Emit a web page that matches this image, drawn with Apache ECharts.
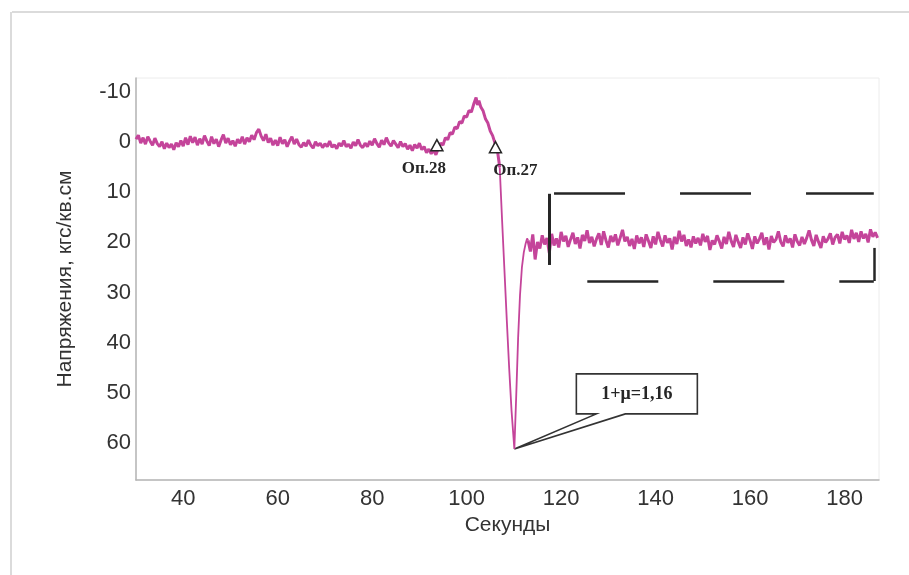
<!DOCTYPE html>
<html>
<head>
<meta charset="utf-8">
<script src="https://cdn.jsdelivr.net/npm/echarts@6/dist/echarts.min.js"></script>
<style>
  html, body { margin: 0; padding: 0; background: #fff; }
  #chart { width: 909px; height: 575px; }
</style>
</head>
<body>
<div id="chart"></div>
<script>
// sampled trace, seconds / kgf per sq.cm
const sampleStep = 0.5;

const baseStart = 30;
const baseValues = [
  -0.6, -1.4, 0.2, -0.9, 0.4, -1.1, -0.2, 0.6, -0.8, 0.3,
  0.9, -0.1, 1.3, 0.2, 1.1, 0.4, 1.5, 0.1, 0.9, -0.3,
  0.8, -0.9, 0.5, -1.2, 0.1, -1.0, 0.6, -0.7, 0.4, -1.3,
  -0.2, 0.7, -1.1, 0.3, -0.6, 0.9, -0.4, -1.5, 0.2, -0.8,
  0.5, -0.3, 0.8, -0.6, 0.2, -1.1, 0.4, -0.9, -0.1, -1.4,
  -0.5, -1.9, -2.6, -1.2, -0.3, -1.6, 0.1, -0.8, 0.6, -0.4,
  0.7, -1.0, 0.3, -0.5, 0.9, -0.2, -1.1, 0.4, -0.6, 0.5,
  1.0, 0.1, 0.8, -0.4, 0.6, 1.2, -0.1, 0.7, 0.2, 1.1,
  0.3, 0.9, -0.2, 1.0, 0.5, 1.3, 0.2, 0.8, -0.3, 0.9,
  0.4, 1.2, 0.0, 0.7, -0.5, 0.6, 1.1, 0.2, 0.9, -0.2,
  0.6, -0.7, 0.3, 1.0, -0.4, 0.5, -0.9, 0.2, 0.8, -0.3,
  0.4, 1.1, -0.1, 0.9, 0.3, 1.4, 0.6, 1.7, 0.5, 1.2,
  0.2, 1.5, 0.9, 2.1
];

// rise between supports 28 and 27
const riseTimes = [
  92, 92.5, 93, 93.5, 94, 94.5, 95, 95.5, 96, 96.5,
  97, 97.5, 98, 98.5, 99, 99.5, 100, 100.5, 101, 101.5,
  102, 102.3, 102.6, 103, 103.5, 104, 104.5, 105, 105.5, 106,
  106.5, 107
];
const riseValues = [
  1.4, 2.3, 1.6, 2.5, 1.2, 0.2, 0.6, -0.9, -0.5, -1.9,
  -1.6, -3.0, -2.7, -4.1, -3.8, -5.2, -5.0, -6.3, -6.0, -7.6,
  -8.9, -7.4, -8.3, -7.0, -6.2, -4.6, -3.8, -2.2, -1.3, 0.2,
  1.5, 5.0
];

// sharp drop and recovery
const dropTimes = [107, 107.5, 108, 108.5, 109, 109.5, 110.1, 110.5, 110.9, 111.3, 111.7, 112.1, 112.5, 112.8, 113];
const dropValues = [5.0, 15.5, 25.5, 35.5, 45.0, 53.5, 61.2, 50.5, 39.0, 30.5, 25.0, 22.0, 20.2, 19.2, 19.6];

const postStart = 113;
const postValues = [
  19.6, 21.8, 18.4, 23.4, 19.9, 21.2, 18.6, 20.4, 19.1, 22.1,
  18.3, 20.6, 19.2, 21.0, 17.9, 19.8, 18.7, 20.9, 19.4, 18.1,
  20.3, 19.0, 21.2, 18.5, 19.7, 17.6, 20.1, 18.9, 20.8, 19.3,
  18.2, 20.5, 17.8, 19.6, 21.0, 18.7, 19.9, 18.4, 20.6, 19.1,
  17.5, 19.8, 18.9, 20.7, 19.3, 21.3, 18.6, 20.2, 19.0, 20.9,
  18.4, 19.7, 21.1, 18.8, 20.4, 17.9, 19.5, 20.8, 18.6, 20.1,
  19.2, 21.4, 18.9, 20.3, 17.7, 19.8, 18.5, 20.7, 19.4, 21.0,
  18.8, 20.2, 19.1, 20.6, 18.3, 19.9, 18.7, 21.5, 19.6, 20.4,
  18.6, 19.8, 21.2, 18.9, 20.3, 17.9, 19.7, 20.9, 18.5, 19.9,
  21.1, 19.0, 20.4, 18.2, 19.6, 21.3, 18.8, 20.2, 19.3, 18.1,
  20.5, 19.0, 21.4, 18.7, 20.0, 19.4, 17.8, 19.9, 20.8, 18.6,
  20.1, 19.2, 21.0, 18.4, 19.8, 20.6, 18.9, 20.3, 19.1, 17.6,
  19.5, 20.7, 18.5, 19.9, 21.1, 18.8, 20.0, 19.3, 18.2, 20.4,
  19.0, 18.4, 20.2, 17.9, 19.4, 18.6, 20.1, 17.5, 19.3, 18.1,
  19.9, 17.8, 19.2, 18.3, 20.0, 17.4, 18.9, 18.0, 19.1
];

const xTicks = [40, 60, 80, 100, 120, 140, 160, 180];
const yTicks = [-10, 0, 10, 20, 30, 40, 50, 60];

// supports (triangles)
const supportNames = ['Оп.28', 'Оп.27'];
const supportTimes = [93.7, 106.1];
const supportValues = [0.6, 1.0];

// dashed band after the drop
const bandTop = 10.2, bandBottom = 27.7;
const bandLeft = 117.5, bandRight = 186.2;

const calloutText = '1+μ=1,16';

const before = [];
baseValues.forEach((v, i) => before.push([baseStart + i * sampleStep, v]));
riseTimes.forEach((t, i) => before.push([t, riseValues[i]]));
const drop = dropTimes.map((t, i) => [t, dropValues[i]]);
const after = postValues.map((v, i) => [postStart + i * sampleStep, v]);

let peak = drop[0];
drop.forEach(p => { if (p[1] > peak[1]) peak = p; });

const chart = echarts.init(document.getElementById('chart'), null, { renderer: 'canvas' });

const pink = '#c4449a';
const dark = '#262626';
const serif = '"Liberation Serif", "Times New Roman", serif';
const sans = '"Liberation Sans", Arial, sans-serif';

const traceSeries = (data, width) => ({
  type: 'line',
  data: data,
  showSymbol: false,
  silent: true,
  lineStyle: { color: pink, width: width }
});

const option = {
  animation: false,
  backgroundColor: '#fff',
  grid: {
    left: 136, right: 30, top: 78, bottom: 95,
    show: true, borderColor: '#ececec', borderWidth: 1
  },
  xAxis: {
    type: 'value',
    min: 30, max: 187.3,
    name: 'Секунды',
    nameLocation: 'middle',
    nameGap: 35,
    nameTextStyle: { fontFamily: sans, fontSize: 21, color: '#333' },
    axisLine: { onZero: false, lineStyle: { color: '#b5b5b5', width: 1.5 } },
    axisTick: { show: false },
    splitLine: { show: false },
    axisLabel: {
      customValues: xTicks,
      margin: 8,
      fontFamily: sans, fontSize: 22, color: '#333'
    }
  },
  yAxis: {
    type: 'value',
    inverse: true,
    min: -12.8, max: 67.4,
    name: 'Напряжения, кгс/кв.см',
    nameLocation: 'middle',
    nameGap: 60,
    nameTextStyle: { fontFamily: sans, fontSize: 21, color: '#333' },
    axisLine: { show: true, onZero: false, lineStyle: { color: '#b5b5b5', width: 1.5 } },
    axisTick: { show: false },
    splitLine: { show: false },
    axisLabel: {
      customValues: yTicks,
      margin: 5,
      fontFamily: sans, fontSize: 22, color: '#333'
    }
  },
  series: [
    Object.assign(traceSeries(before, 3), {
      markPoint: {
        silent: true,
        symbol: 'triangle',
        symbolSize: [12, 11],
        itemStyle: { color: '#fff', borderColor: dark, borderWidth: 1.5 },
        label: {
          show: true,
          position: 'bottom',
          formatter: '{b}',
          fontFamily: serif, fontWeight: 'bold', fontSize: 17, color: dark
        },
        data: [
          { name: supportNames[0], coord: [supportTimes[0], supportValues[0]],
            label: { offset: [-13, 4] } },
          { name: supportNames[1], coord: [supportTimes[1], supportValues[1]],
            label: { offset: [20, 4] } }
        ]
      }
    }),
    traceSeries(drop, 1.8),
    Object.assign(traceSeries(after, 3), {
      markLine: {
        silent: true,
        symbol: ['none', 'none'],
        label: { show: false },
        lineStyle: { color: dark, width: 2.5, type: 'solid' },
        data: [
          [{ coord: [bandLeft + 1, bandTop], lineStyle: { type: [71, 55] } },
           { coord: [bandRight, bandTop] }],
          [{ coord: [bandLeft, bandBottom], lineStyle: { type: [71, 55], dashOffset: 88 } },
           { coord: [bandRight, bandBottom] }],
          [{ coord: [bandLeft, bandTop + 0.1], lineStyle: { width: 3 } },
           { coord: [bandLeft, 24.5] }],
          [{ coord: [bandRight, 21.1] },
           { coord: [bandRight, bandBottom] }]
        ]
      }
    })
  ]
};

chart.setOption(option);

// callout with pointer to the deepest point
const tip = chart.convertToPixel({ gridIndex: 0 }, peak);
const bx = tip[0] + 62, by = tip[1] - 75, bw = 121, bh = 40;
chart.setOption({
  graphic: [
    { type: 'line', shape: { x1: 12, y1: 12, x2: 909, y2: 12 },
      style: { stroke: '#cfcfcf', lineWidth: 1.5 }, silent: true },
    { type: 'line', shape: { x1: 11, y1: 12, x2: 11, y2: 575 },
      style: { stroke: '#cfcfcf', lineWidth: 1.5 }, silent: true },
    {
      type: 'polygon',
      silent: true,
      shape: {
        points: [
          [bx, by], [bx + bw, by], [bx + bw, by + bh],
          [tip[0] + 111, by + bh], [tip[0], tip[1]],
          [tip[0] + 82, by + bh], [bx, by + bh]
        ]
      },
      style: { fill: '#fff', stroke: '#333', lineWidth: 1.6 }
    },
    {
      type: 'text',
      silent: true,
      x: bx + bw / 2, y: by + bh / 2,
      style: {
        text: calloutText,
        align: 'center', verticalAlign: 'middle',
        font: 'bold 18px ' + serif, fill: dark
      }
    }
  ]
});

window.addEventListener('resize', () => chart.resize());
</script>
</body>
</html>
